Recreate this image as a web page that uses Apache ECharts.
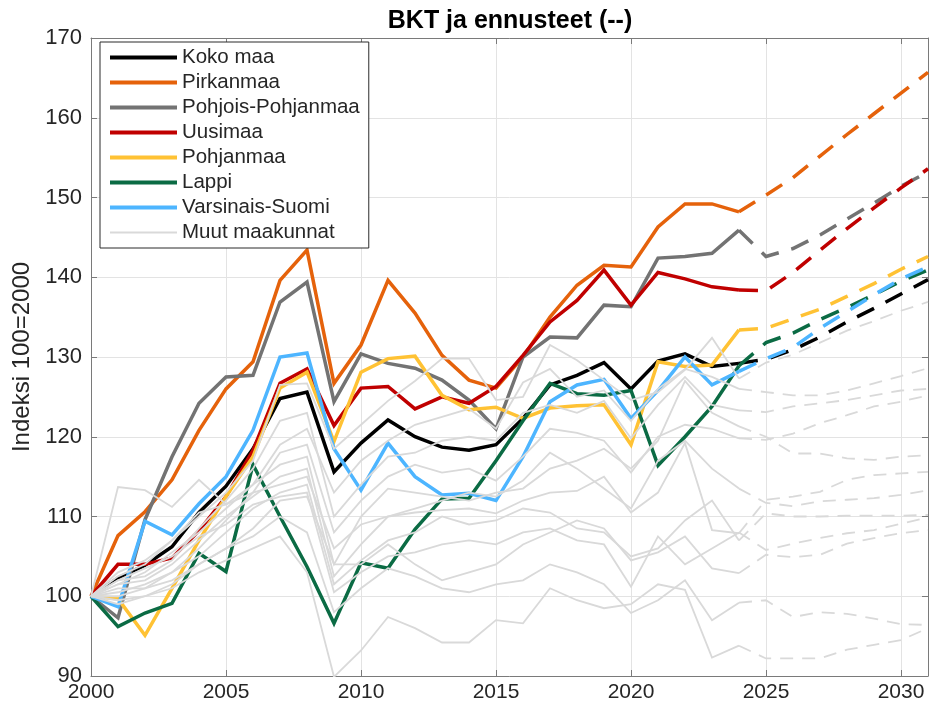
<!DOCTYPE html>
<html><head><meta charset="utf-8">
<script src="https://cdn.jsdelivr.net/npm/echarts@6/dist/echarts.min.js"></script>
<style>html,body{margin:0;padding:0;background:#fff}#c{width:929px;height:707px}</style>
</head><body><div id="c"></div>
<script>
// ---- data ----
const years = [2000,2001,2002,2003,2004,2005,2006,2007,2008,2009,2010,2011,2012,2013,2014,2015,2016,2017,2018,2019,2020,2021,2022,2023,2024];
const forecastYears = [2024,2025,2026,2027,2028,2029,2030,2031];
const xTicks = [2000,2005,2010,2015,2020,2025,2030];
const yTicks = [90,100,110,120,130,140,150,160,170];

const kokoMaa   = [100,102.3,103.9,106.2,110.5,113.8,118.5,124.8,125.6,115.6,119.2,122.1,120.0,118.7,118.3,119.0,122.3,126.5,127.7,129.3,126.0,129.5,130.4,128.8,129.2];
const pirkanmaa = [100,107.6,110.6,114.6,120.8,126.0,129.4,139.6,143.4,126.7,131.5,139.6,135.5,130.2,127.1,126.1,130.0,135.0,139.0,141.5,141.3,146.3,149.2,149.2,148.2];
const pohjoisPohjanmaa = [100,97.3,109.6,117.5,124.2,127.5,127.7,136.9,139.4,124.4,130.4,129.2,128.6,127.1,124.6,121.0,130.0,132.5,132.4,136.5,136.3,142.4,142.6,143.0,145.9];
const uusimaa   = [100,104.0,104.0,104.8,108.2,112.5,118.3,126.7,128.5,121.4,126.1,126.3,123.5,125.0,124.2,126.3,130.2,134.4,137.1,140.9,136.5,140.6,139.8,138.8,138.4];
const pohjanmaa = [100,99.7,95.1,101.0,107.0,112.5,117.5,126.1,128.1,119.4,128.1,129.8,130.1,125.2,123.4,123.7,122.3,123.6,123.9,124.0,119.0,129.4,128.8,129.0,133.4];
const lappi     = [100,96.2,97.9,99.1,105.4,103.1,116.5,110.0,103.7,96.6,104.2,103.5,108.4,112.2,112.3,117.0,122.0,126.7,125.4,125.2,125.8,116.4,120.0,123.8,128.9];
const varsinaisSuomi = [100,98.7,109.4,107.7,111.6,115.0,120.8,130.0,130.5,118.5,113.3,119.2,115.0,112.7,112.9,112.0,117.5,124.4,126.5,127.2,122.3,125.8,130.0,126.5,128.2];

const kokoMaaF   = [129.2,129.7,130.9,132.5,134.4,136.1,137.9,139.7];
const pirkanmaaF = [148.2,150.3,152.5,155.2,157.9,160.5,163.1,165.7];
const pohjoisPohjanmaaF = [145.9,142.6,143.6,145.3,147.3,149.3,151.4,153.2];
const uusimaaF   = [138.4,138.3,140.6,143.4,146.1,148.7,151.2,153.6];
const pohjanmaaF = [133.4,133.6,134.8,136.0,137.6,139.2,141.0,142.6];
const lappiF     = [128.9,131.8,133.0,134.7,136.2,137.8,139.5,140.9];
const varsinaisSuomiF = [128.2,129.8,131.2,133.6,135.7,137.8,139.8,141.3];

// Muut maakunnat (other regions), actual 2000-2024
const muutActual = [
  [100,102.5,104,107,110,113,117,126.5,126.7,118.5,121.5,124.5,127,129.8,129.8,124.6,125.0,131.5,129.6,127.1,124.6,125.6,128.4,132.4,127.3],
  [100,101.5,103,105.5,108,111,114,119,121,113,117,119.5,121.5,122.5,123.5,121,126.8,128.5,125,125.8,122,126,128.5,127.5,126.0],
  [100,102,102.5,104.5,108.5,112,116,122,123,110,114,117.5,118,119.5,120,119.5,123,124,123,124.5,119.8,124,127.5,124,123.3],
  [100,101,101,103,106,109.5,113,118,119,108,112,115,116.5,115.5,116,114.5,117.5,121,120.5,119.5,115.5,120,121.5,121,119.8],
  [100,103,104.5,107,110.5,111.5,114,116.5,117.5,104,110,113.5,113,112.5,112,113,113.5,116,117,118.5,116,119.5,127,123,121.3],
  [100,113.7,113.3,111.2,114.6,111.5,113,114,115,106,109,110,110.5,110.8,111,110.4,112,113,113.2,115,110.5,113,119.2,108.3,107.9],
  [100,101.5,102,104,107,110,112.5,115,116,102.5,106.5,110,111,112,113,112.5,114.5,118,116,113.5,111,117,119.5,116,113.5],
  [100,100.5,101.5,103,105,108,111,113,114,101.5,104.5,107,108,110,109,109.5,111,110.5,108.5,108,105,106,109.5,112,107.0],
  [100,102,103.5,105,107.5,109,111.5,112.5,113,100.5,103,105,105.5,106.5,107,106.5,108,108.5,107,106.5,101.2,107.5,104,106,108.0],
  [100,99.5,100,101.5,104,106,108.5,112,112.5,104,104,106.5,104,102,103,104,106.5,108,109.5,108.5,104.5,105.5,107.5,103.5,102.9],
  [100,100,101,102,104,106,107.5,110,108,98,101,103.5,102.5,101,100.5,101.5,102,104,103,101.5,97.9,99.5,102,97,99.2],
  [100,99,100,101,103,104.5,106,107.5,103,89.9,93.2,97.4,96,94.2,94.2,97.0,96.6,101,99.5,98.5,99,101.5,100.8,92.3,93.8]
];
// Muut maakunnat forecasts 2024-2031
const muutForecast = [
  [127.3,129.3,130.3,131.8,133.3,134.5,135.8,136.9],
  [126.0,125.6,125.2,125.2,125.8,126.7,127.6,128.6],
  [123.3,123.1,123.8,124.2,124.6,125.2,125.8,126.0],
  [119.8,119.6,120.4,121.7,122.7,123.8,124.4,125.2],
  [121.3,120.0,117.9,117.9,117.3,117.1,117.5,117.7],
  [107.9,112.1,112.5,113.1,114.6,115.2,115.4,115.6],
  [113.5,111.7,111.3,111.9,112.1,112.3,112.7,113.3],
  [107.0,110.4,110.0,110.0,110.1,110.1,110.1,110.2],
  [108.0,105.8,106.6,107.3,107.9,108.3,109.1,109.9],
  [102.9,105.2,104.9,105.2,106.6,107.3,107.9,108.3],
  [99.2,99.5,97.4,98.0,97.8,97.2,96.5,96.4],
  [93.8,92.2,92.2,92.2,93.3,93.9,94.5,96.0]
];

const seriesNames = ['Koko maa','Pirkanmaa','Pohjois-Pohjanmaa','Uusimaa','Pohjanmaa','Lappi','Varsinais-Suomi'];
const seriesColors = ['#000000','#E5620B','#737373','#C00000','#FFC234','#0B6B44','#4DB5FF'];
const actuals = [kokoMaa,pirkanmaa,pohjoisPohjanmaa,uusimaa,pohjanmaa,lappi,varsinaisSuomi];
const forecasts = [kokoMaaF,pirkanmaaF,pohjoisPohjanmaaF,uusimaaF,pohjanmaaF,lappiF,varsinaisSuomiF];
const muutName = 'Muut maakunnat';
const muutColor = '#D9D9D9';

// ---- chart ----
const FONT = 'Liberation Sans, Arial, Helvetica, sans-serif';
const pair = (xs, ys) => xs.map((x, i) => [x, ys[i]]);
const series = [];
function lineSeries(name, color, xs, ys, width, dash) {
  return {
    type: 'line', name: name, data: pair(xs, ys),
    symbol: 'none', showSymbol: false, silent: true, animation: false,
    xAxisIndex: 0, yAxisIndex: 0,
    itemStyle: { color: color },
    lineStyle: { color: color, width: width, type: dash || 'solid', cap: 'butt', join: 'miter' }
  };
}
actuals.forEach((a, i) => series.push(lineSeries(seriesNames[i], seriesColors[i], years, a, 3.5)));
muutActual.forEach(a => series.push(lineSeries(muutName, muutColor, years, a, 1.8)));
forecasts.forEach((f, i) => series.push(lineSeries(seriesNames[i], seriesColors[i], forecastYears, f, 3.5, [19, 13])));
muutForecast.forEach(f => series.push(lineSeries(muutName, muutColor, forecastYears, f, 1.8, [13, 9])));

const axisColor = '#7a7a7a';
const gridColor = '#e3e3e3';
const XMIN = 2000, XMAX = 2031, YMIN = 90, YMAX = 170;

const legendData = seriesNames.map(n => ({ name: n, lineStyle: { width: 4 } }))
  .concat([{ name: muutName, lineStyle: { width: 2 } }]);

const option = {
  backgroundColor: '#ffffff',
  animation: false,
  textStyle: { fontFamily: FONT },
  title: {
    text: 'BKT ja ennusteet (--)', left: 505, top: 4, textAlign: 'center',
    textStyle: { fontFamily: FONT, fontSize: 25, fontWeight: 'bold', color: '#000' }
  },
  grid: { left: 91, right: 1, top: 38, bottom: 31, containLabel: false, show: false },
  legend: {
    data: legendData,
    orient: 'vertical', left: 100, top: 42,
    itemWidth: 67, itemHeight: 18, itemGap: 4, itemTextGap: 7,
    padding: [5, 9, 5, 8],
    backgroundColor: '#ffffff', borderColor: '#2b2b2b', borderWidth: 1, borderRadius: 0,
    selectedMode: false,
    itemStyle: { opacity: 0 },
    lineStyle: { width: 4 },
    textStyle: { fontFamily: FONT, fontSize: 20.5, color: '#262626' }
  },
  xAxis: [
    {
      type: 'value', min: XMIN, max: XMAX, interval: 5, position: 'bottom',
      axisLine: { show: true, lineStyle: { color: axisColor, width: 1 } },
      axisTick: { show: true, inside: true, length: 6, lineStyle: { color: axisColor } },
      axisLabel: { show: true, fontFamily: FONT, fontSize: 21, color: '#262626', margin: 6, showMaxLabel: false,
        formatter: v => (xTicks.indexOf(v) >= 0 ? String(v) : '') },
      splitLine: { show: true, lineStyle: { color: gridColor, width: 1 } }
    },
    {
      type: 'value', min: XMIN, max: XMAX, interval: 5, position: 'top',
      axisLine: { show: true, lineStyle: { color: axisColor, width: 1 } },
      axisTick: { show: true, inside: true, length: 6, lineStyle: { color: axisColor } },
      axisLabel: { show: false }, splitLine: { show: false }
    }
  ],
  yAxis: [
    {
      type: 'value', min: YMIN, max: YMAX, interval: 10, position: 'left',
      name: 'Indeksi 100=2000', nameLocation: 'middle', nameGap: 56, nameRotate: 90,
      nameTextStyle: { fontFamily: FONT, fontSize: 24, color: '#262626' },
      axisLine: { show: true, lineStyle: { color: axisColor, width: 1 } },
      axisTick: { show: true, inside: true, length: 6, lineStyle: { color: axisColor } },
      axisLabel: { show: true, fontFamily: FONT, fontSize: 22, color: '#262626', margin: 9,
        formatter: v => (yTicks.indexOf(v) >= 0 ? String(v) : '') },
      splitLine: { show: true, lineStyle: { color: gridColor, width: 1 } }
    },
    {
      type: 'value', min: YMIN, max: YMAX, interval: 10, position: 'right',
      axisLine: { show: true, lineStyle: { color: axisColor, width: 1 } },
      axisTick: { show: true, inside: true, length: 6, lineStyle: { color: axisColor } },
      axisLabel: { show: false }, splitLine: { show: false }
    }
  ],
  series: series
};
const chart = echarts.init(document.getElementById('c'), null, { renderer: 'canvas' });
chart.setOption(option);
</script>
</body></html>
